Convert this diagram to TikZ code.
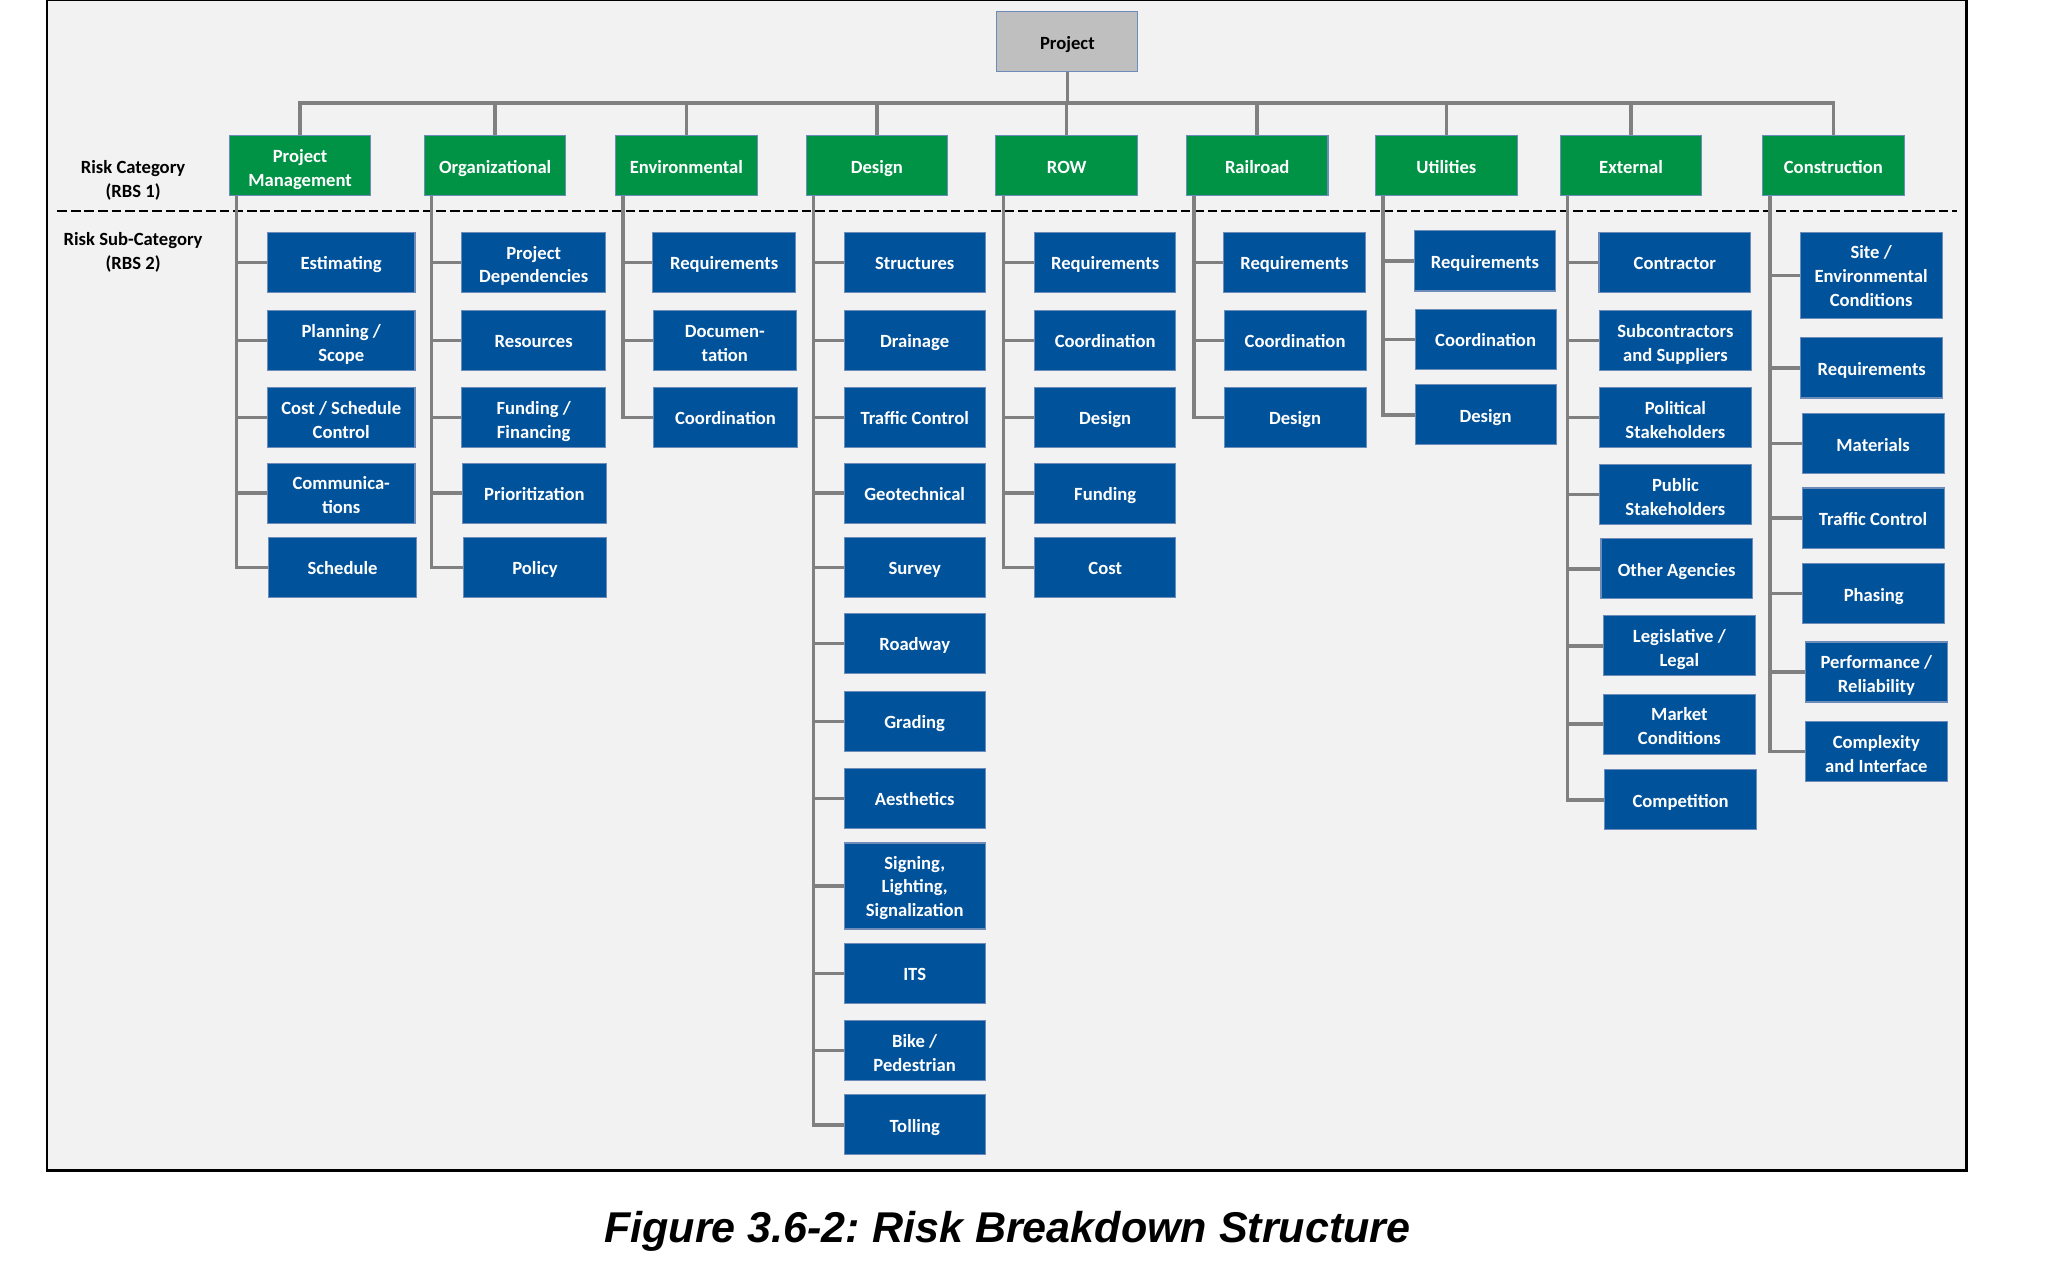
\documentclass[tikz,border=0pt]{standalone}
\usepackage{fontspec}
\setmainfont{Carlito}
\newfontfamily\capfont{Liberation Sans}
\usetikzlibrary{calc}
\usepackage{xcolor}
\definecolor{rgreen}{RGB}{0,146,69}
\definecolor{rblue}{RGB}{0,82,155}
\definecolor{rline}{RGB}{128,128,128}
\definecolor{rbord}{RGB}{110,140,185}
\definecolor{rback}{RGB}{242,242,242}
\definecolor{rgrey}{RGB}{191,191,191}
% first-line lift for boxes with more than one line
\newcommand{\lifttwo}{\rule{0pt}{14pt}}
\newcommand{\liftthree}{\rule{0pt}{12pt}}

\begin{document}
\begin{tikzpicture}[x=0.026096cm, y=-0.026096cm,
  boxtext/.style={font=\fontsize{10.6}{13.6}\selectfont\bfseries,
              execute at begin node=\rule{0pt}{12.5pt},
              execute at end node=\rule[-4.1pt]{0pt}{4.1pt}},
  top/.style={rectangle,draw=rbord,fill=rgrey,line width=0.6pt,boxtext,
              minimum width=2.82cm,minimum height=1.2cm,inner sep=1pt,align=center},
  cat/.style={rectangle,draw=rbord,fill=rgreen,text=white,line width=0.6pt,boxtext,
              minimum width=2.83cm,minimum height=1.2cm,inner sep=1pt,align=center},
  sub/.style={rectangle,draw=rbord,fill=rblue,text=white,line width=0.6pt,boxtext,
              minimum width=#1,minimum height=1.2cm,inner sep=1pt,align=center},
  sub/.default=2.87cm,
  tall/.style={minimum height=1.72cm},
  lbl/.style={boxtext,align=center,inner sep=0pt},
  conn/.style={rline,line width=2pt},
  sep/.style={black,line width=1.2pt,dash pattern=on 5.5pt off 2.2pt},
  capt/.style={font=\capfont\fontsize{24.5}{29}\selectfont\bfseries\itshape\frenchspacing,inner sep=0pt}
]
\useasboundingbox (0,0) rectangle (1568,967);
\draw[black,line width=1.5pt,fill=rback] (36,0) rectangle (1507,897);

% top level
\node[top] (proj) at (818,32) {Project};
\coordinate (bus) at (818,79);

\node[cat] (pm)   at (230,127)   {\lifttwo Project\\Management};
\node[cat] (org)  at (379.5,127) {Organizational};
\node[cat] (env)  at (526,127)   {Environmental};
\node[cat] (des)  at (672,127)   {Design};
\node[cat] (row)  at (817.5,127) {ROW};
\node[cat] (rail) at (963.5,127) {Railroad};
\node[cat] (util) at (1108.5,127){Utilities};
\node[cat] (ext)  at (1250,127)  {External};
\node[cat] (con)  at (1405,127)  {Construction};

\draw[conn] (proj.south) -- (bus)
  (bus) -| (pm.north) (bus) -| (org.north) (bus) -| (env.north)
  (bus) -| (des.north) (bus) -| (row.north) (bus) -| (rail.north)
  (bus) -| (util.north) (bus) -| (ext.north) (bus) -| (con.north);

% levels
\node[lbl] (lcat) at (102,140) {Risk Category\\(RBS 1)};
\node[lbl] (lsub) at (102,195) {Risk Sub-Category\\(RBS 2)};
\draw[sep] (44,162) -- (1500,162);

% Project Management
\node[sub=2.95cm] (pm1) at (261.5,201) {Estimating};
\node[sub=2.95cm] (pm2) at (261.5,261) {\lifttwo Planning /\\Scope};
\node[sub=2.95cm] (pm3) at (261.5,320) {\lifttwo Cost / Schedule\\Control};
\node[sub=2.95cm] (pm4) at (261.5,378) {\lifttwo Communica-\\tions};
\node[sub=2.95cm] (pm5) at (262.5,435) {Schedule};

% Organizational
\node[sub] (org1) at (409,201) {\lifttwo Project\\Dependencies};
\node[sub] (org2) at (409,261) {Resources};
\node[sub] (org3) at (409,320) {\lifttwo Funding /\\Financing};
\node[sub] (org4) at (409.5,378) {Prioritization};
\node[sub] (org5) at (410,435) {Policy};

% Environmental
\node[sub] (env1) at (555,201) {Requirements};
\node[sub] (env2) at (555.5,261) {\lifttwo Documen-\\tation};
\node[sub] (env3) at (556,320) {Coordination};

% Design
\node[sub=2.82cm] (des1)  at (701,201) {Structures};
\node[sub=2.82cm] (des2)  at (701,261) {Drainage};
\node[sub=2.82cm] (des3)  at (701,320) {Traffic Control};
\node[sub=2.82cm] (des4)  at (701,378) {Geotechnical};
\node[sub=2.82cm] (des5)  at (701,435) {Survey};
\node[sub=2.82cm] (des6)  at (701,493) {Roadway};
\node[sub=2.82cm] (des7)  at (701,553) {Grading};
\node[sub=2.82cm] (des8)  at (701,612) {Aesthetics};
\node[sub=2.82cm,tall] (des9) at (701,679) {\liftthree Signing,\\Lighting,\\Signalization};
\node[sub=2.82cm] (des10) at (701,746) {ITS};
\node[sub=2.82cm] (des11) at (701,805) {\lifttwo Bike /\\Pedestrian};
\node[sub=2.82cm] (des12) at (701,862) {Tolling};

% ROW
\node[sub=2.82cm] (row1) at (847,201) {Requirements};
\node[sub=2.82cm] (row2) at (847,261) {Coordination};
\node[sub=2.82cm] (row3) at (847,320) {Design};
\node[sub=2.82cm] (row4) at (847,378) {Funding};
\node[sub=2.82cm] (row5) at (847,435) {Cost};

% Railroad
\node[sub=2.84cm] (rail1) at (992,201) {Requirements};
\node[sub=2.84cm] (rail2) at (992.5,261) {Coordination};
\node[sub=2.84cm] (rail3) at (992.5,320) {Design};

% Utilities
\node[sub=2.82cm] (util1) at (1138,200) {Requirements};
\node[sub=2.82cm] (util2) at (1138.5,260) {Coordination};
\node[sub=2.82cm] (util3) at (1138.5,318) {Design};

% External
\node[sub=3.03cm] (ext1) at (1283.5,201) {Contractor};
\node[sub=3.03cm] (ext2) at (1284,261) {\lifttwo Subcontractors\\and Suppliers};
\node[sub=3.03cm] (ext3) at (1284,320) {\lifttwo Political\\Stakeholders};
\node[sub=3.03cm] (ext4) at (1284,379) {\lifttwo Public\\Stakeholders};
\node[sub=3.03cm] (ext5) at (1285,436) {Other Agencies};
\node[sub=3.03cm] (ext6) at (1287,495) {\lifttwo Legislative /\\Legal};
\node[sub=3.03cm] (ext7) at (1287,555) {\lifttwo Market\\Conditions};
\node[sub=3.03cm] (ext8) at (1288,613) {Competition};

% Construction
\node[sub=2.84cm,tall] (con1) at (1434,211) {\liftthree Site /\\Environmental\\Conditions};
\node[sub=2.84cm] (con2) at (1434.5,282) {Requirements};
\node[sub=2.84cm] (con3) at (1435.5,340) {Materials};
\node[sub=2.84cm] (con4) at (1435.5,397) {Traffic Control};
\node[sub=2.84cm] (con5) at (1436,455) {Phasing};
\node[sub=2.84cm] (con6) at (1438,515) {\lifttwo Performance /\\Reliability};
\node[sub=2.84cm] (con7) at (1438,576) {\lifttwo Complexity\\and Interface};

% spines
\draw[conn] ($(pm.south west)+(6,0)$) coordinate (pms)
  |- (pm1.west) (pms) |- (pm2.west) (pms) |- (pm3.west) (pms) |- (pm4.west) (pms) |- (pm5.west);
\draw[conn] ($(org.south west)+(6,0)$) coordinate (orgs)
  |- (org1.west) (orgs) |- (org2.west) (orgs) |- (org3.west) (orgs) |- (org4.west) (orgs) |- (org5.west);
\draw[conn] ($(env.south west)+(6,0)$) coordinate (envs)
  |- (env1.west) (envs) |- (env2.west) (envs) |- (env3.west);
\draw[conn] ($(des.south west)+(6,0)$) coordinate (dess)
  |- (des1.west) (dess) |- (des2.west) (dess) |- (des3.west) (dess) |- (des4.west)
  (dess) |- (des5.west) (dess) |- (des6.west) (dess) |- (des7.west) (dess) |- (des8.west)
  (dess) |- (des9.west) (dess) |- (des10.west) (dess) |- (des11.west) (dess) |- (des12.west);
\draw[conn] ($(row.south west)+(6,0)$) coordinate (rows)
  |- (row1.west) (rows) |- (row2.west) (rows) |- (row3.west) (rows) |- (row4.west) (rows) |- (row5.west);
\draw[conn] ($(rail.south west)+(6,0)$) coordinate (rails)
  |- (rail1.west) (rails) |- (rail2.west) (rails) |- (rail3.west);
\draw[conn] ($(util.south west)+(6,0)$) coordinate (utils)
  |- (util1.west) (utils) |- (util2.west) (utils) |- (util3.west);
\draw[conn] ($(ext.south west)+(6,0)$) coordinate (exts)
  |- (ext1.west) (exts) |- (ext2.west) (exts) |- (ext3.west) (exts) |- (ext4.west)
  (exts) |- (ext5.west) (exts) |- (ext6.west) (exts) |- (ext7.west) (exts) |- (ext8.west);
\draw[conn] ($(con.south west)+(6,0)$) coordinate (cons)
  |- (con1.west) (cons) |- (con2.west) (cons) |- (con3.west) (cons) |- (con4.west)
  (cons) |- (con5.west) (cons) |- (con6.west) (cons) |- (con7.west);

% caption
\node[capt] (fig) at (772,944) {Figure 3.6-2: Risk Breakdown Structure};
\end{tikzpicture}
\end{document}
